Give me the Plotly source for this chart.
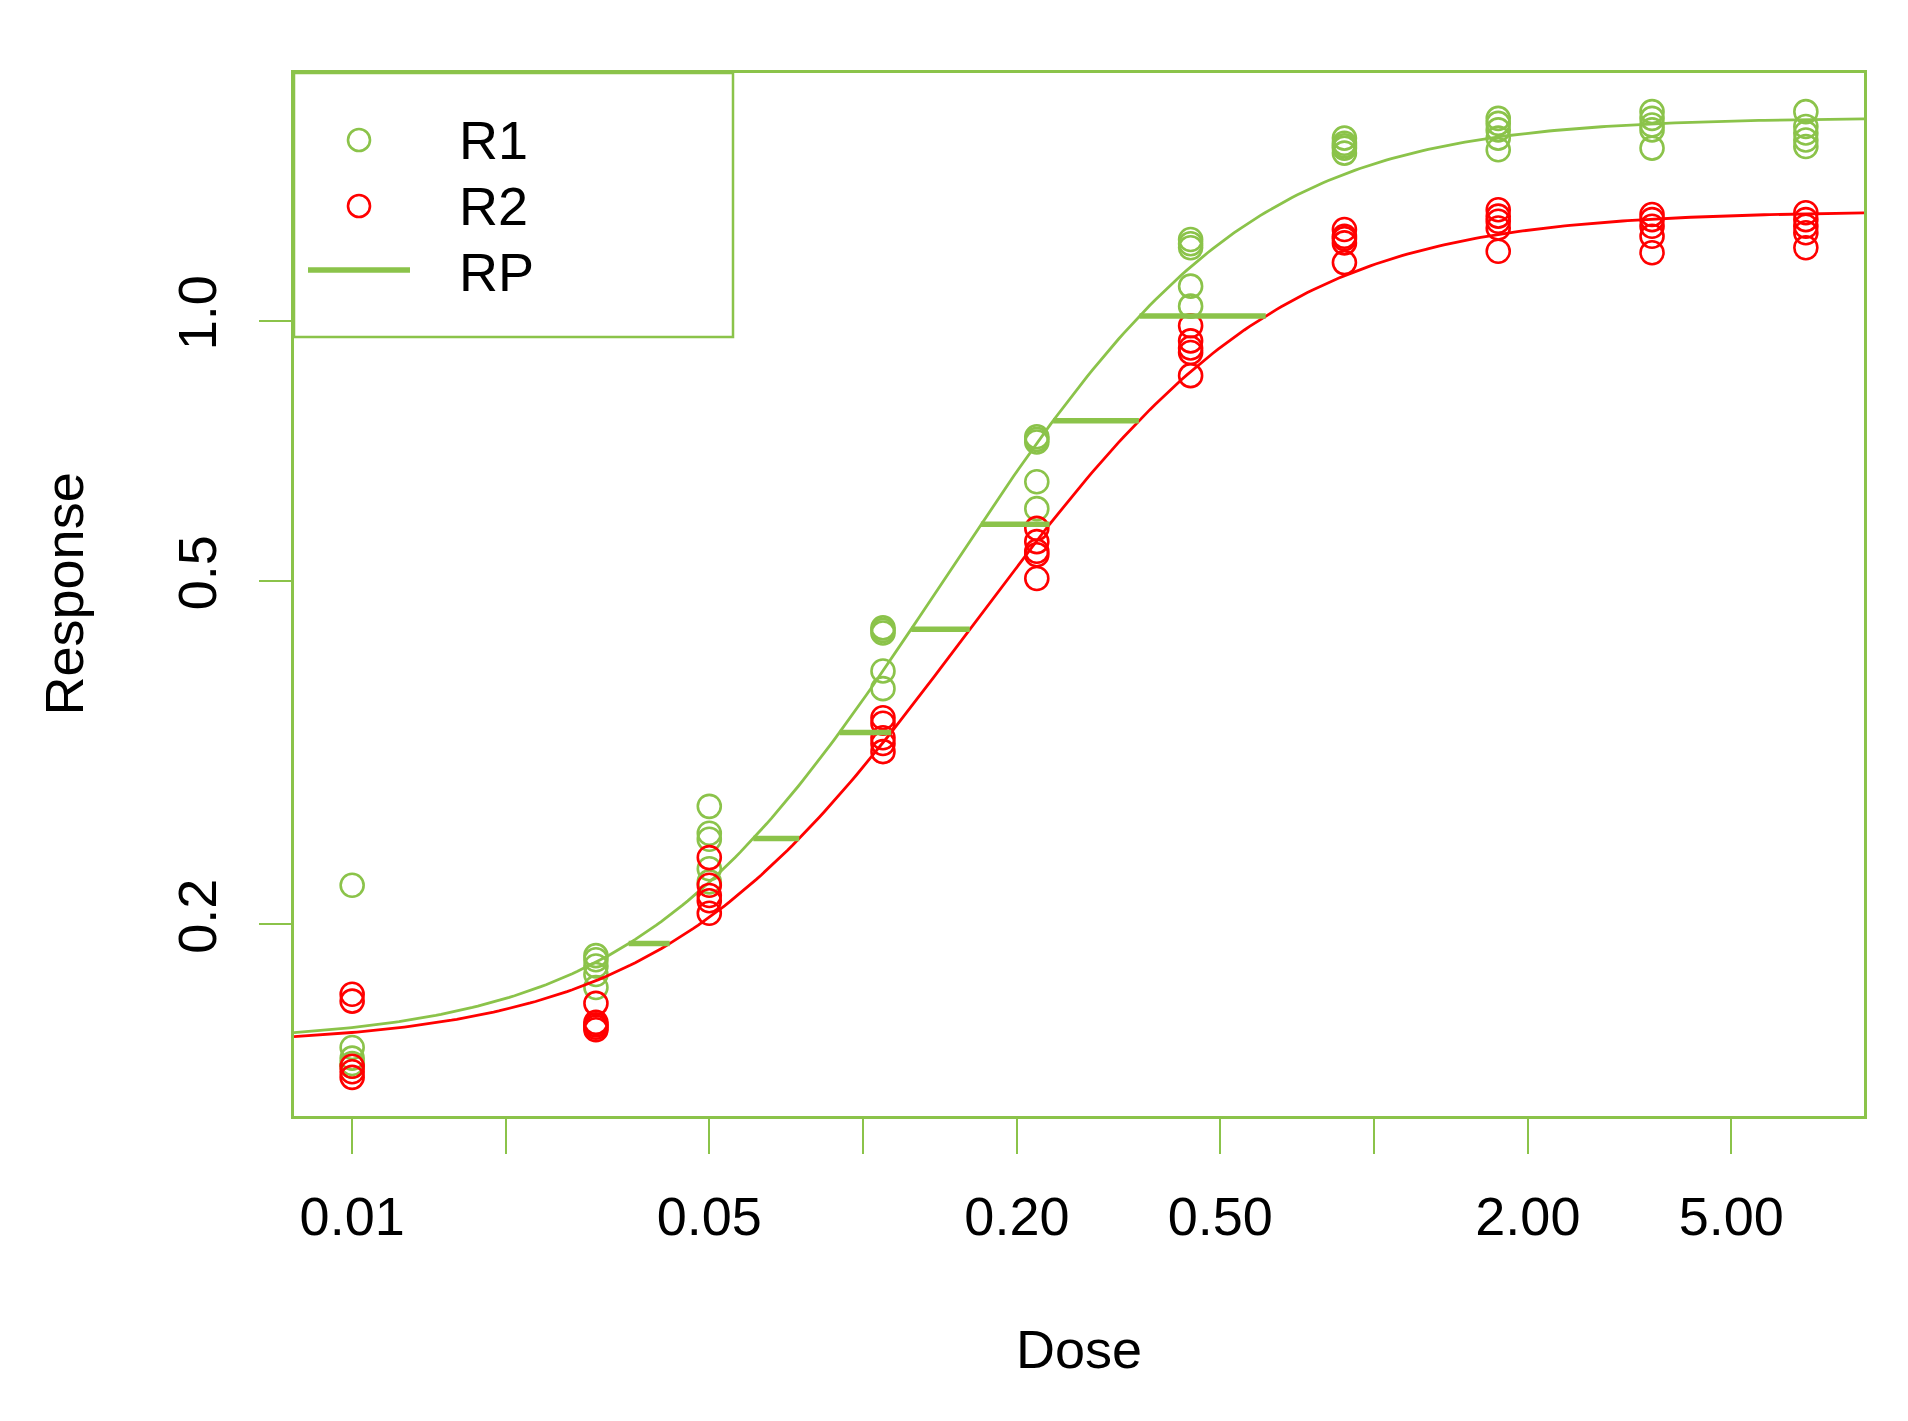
import numpy as np
import plotly.graph_objects as go

# doses (serial 1:2 dilution from 7 down, plus three low doses)
doses = [0.01, 0.03, 0.05, 0.109375, 0.21875, 0.4375, 0.875, 1.75, 3.5, 7.0]

# replicate responses per dose
r1 = [
    [0.222, 0.144, 0.140, 0.138, 0.137],
    [0.184, 0.182, 0.179, 0.175, 0.169],
    [0.274, 0.255, 0.251, 0.232, 0.224],
    [0.441, 0.435, 0.438, 0.393, 0.375],
    [0.734, 0.724, 0.729, 0.651, 0.606],
    [1.242, 1.215, 1.228, 1.097, 1.040],
    [1.628, 1.606, 1.585, 1.564, 1.595],
    [1.716, 1.693, 1.664, 1.628, 1.578],
    [1.747, 1.716, 1.686, 1.664, 1.585],
    [1.747, 1.679, 1.650, 1.620, 1.592],
]
r2 = [
    [0.166, 0.163, 0.137, 0.135, 0.133],
    [0.162, 0.154, 0.152, 0.151, 0.153],
    [0.239, 0.222, 0.213, 0.206, 0.216],
    [0.347, 0.342, 0.329, 0.324, 0.317],
    [0.575, 0.555, 0.541, 0.536, 0.503],
    [0.987, 0.948, 0.930, 0.919, 0.864],
    [1.276, 1.253, 1.231, 1.168, 1.245],
    [1.345, 1.322, 1.304, 1.281, 1.204],
    [1.328, 1.310, 1.287, 1.253, 1.199],
    [1.334, 1.310, 1.287, 1.265, 1.215],
]

# fitted 4-parameter log-logistic models: slope b, lower c, upper d, ED50 e
fit_r1 = dict(b=1.63, c=0.146, d=1.72, e=0.3067)
fit_r2 = dict(b=1.57, c=0.145, d=1.34, e=0.3296)

# response levels where relative potency is shown
rp_levels = [0.190, 0.2515, 0.3337, 0.4395, 0.5813, 0.766, 1.013]

green = '#8BC34A'
red = '#FF0000'
font = 'Liberation Sans, Arial, sans-serif'


def ll4(x, p):
    return p['c'] + (p['d'] - p['c']) / (1 + np.exp(-p['b'] * (np.log(x) - np.log(p['e']))))


def ll4_inv(y, p):
    q = (y - p['c']) / (p['d'] - p['c'])
    return p['e'] * np.exp(np.log(q / (1 - q)) / p['b'])


# axis ranges like R (4% padding on log scale)
lx = np.log10([min(doses), max(doses)])
px = 0.04 * (lx[1] - lx[0])
xr = [lx[0] - px, lx[1] + px]
allr = np.concatenate([np.ravel(r1), np.ravel(r2)])
ly = np.log10([allr.min(), allr.max()])
py = 0.04 * (ly[1] - ly[0])
yr = [ly[0] - py, ly[1] + py]

xx = np.logspace(xr[0], xr[1], 300)

fig = go.Figure()

for resp, fit, col, name in [(r1, fit_r1, green, 'R1'), (r2, fit_r2, red, 'R2')]:
    xs = [d for d, reps in zip(doses, resp) for _ in reps]
    ys = [v for reps in resp for v in reps]
    fig.add_trace(go.Scatter(x=xs, y=ys, mode='markers', name=name,
                             marker=dict(symbol='circle-open', size=23, color=col,
                                         line=dict(width=2.6, color=col))))
    fig.add_trace(go.Scatter(x=xx, y=ll4(xx, fit), mode='lines', name=name + ' fit',
                             line=dict(color=col, width=2.8)))

seg_x, seg_y = [], []
for lev in rp_levels:
    seg_x += [ll4_inv(lev, fit_r1), ll4_inv(lev, fit_r2), None]
    seg_y += [lev, lev, None]
fig.add_trace(go.Scatter(x=seg_x, y=seg_y, mode='lines', name='RP',
                         line=dict(color=green, width=5.5)))

# page has an 8px body margin; plot area given in page pixels
OFF = 8
W, H = 1908 - 2 * OFF, 1421 - 2 * OFF
L, R, T, B = 294, 1864, 73, 1116
pw, ph = R - L, B - T


def pxx(v):
    return (v - L) / pw


def pxy(v):
    return (B - v) / ph


shapes = [
    dict(type='rect', xref='paper', yref='paper', x0=0, x1=pxx(733), y0=pxy(337), y1=1,
         line=dict(color=green, width=2.5), fillcolor='white', layer='above'),
    dict(type='line', xref='paper', yref='paper', x0=pxx(308), x1=pxx(410),
         y0=pxy(270), y1=pxy(270), line=dict(color=green, width=5.5)),
]
for yy, col in [(140, green), (206, red)]:
    shapes.append(dict(type='circle', xref='paper', yref='paper', xsizemode='pixel',
                       ysizemode='pixel', xanchor=pxx(359), yanchor=pxy(yy),
                       x0=-11, x1=11, y0=-11, y1=11, line=dict(color=col, width=2.6)))

annotations = []
for txt, yy in [('R1', 140), ('R2', 206), ('RP', 272)]:
    annotations.append(dict(text=txt, xref='paper', yref='paper', x=pxx(457), y=pxy(yy),
                            xanchor='left', yanchor='middle', showarrow=False,
                            font=dict(size=54, color='black', family=font)))
annotations.append(dict(text='Dose', xref='paper', yref='paper', x=0.5, y=0,
                        yshift=-233, xanchor='center', yanchor='middle', showarrow=False,
                        font=dict(size=54, color='black', family=font)))
annotations.append(dict(text='Response', xref='paper', yref='paper', x=0, y=0.5,
                        xshift=-231, textangle=-90, xanchor='center', yanchor='middle',
                        showarrow=False, font=dict(size=54, color='black', family=font)))

xtick_vals = [0.01, 0.02, 0.05, 0.1, 0.2, 0.5, 1, 2, 5]
xtick_text = ['0.01', '', '0.05', '', '0.20', '0.50', '', '2.00', '5.00']
ytick_vals = [0.2, 0.5, 1.0]
ytick_text = ['0.2', '0.5', '1.0']

fig.update_layout(
    width=W, height=H,
    margin=dict(l=L - OFF, r=W + OFF - R, t=T - OFF, b=H + OFF - B, pad=0),
    plot_bgcolor='white', paper_bgcolor='white',
    showlegend=False,
    font=dict(family=font, size=54, color='black'),
    shapes=shapes, annotations=annotations,
    xaxis=dict(type='log', range=xr, tickvals=xtick_vals, ticktext=xtick_text,
               ticks='outside', ticklen=35, tickwidth=2, tickcolor=green,
               showline=True, linecolor=green, linewidth=2.5, mirror=True,
               showgrid=False, zeroline=False, ticklabelstandoff=16,
               tickfont=dict(size=54, family=font)),
    yaxis=dict(type='log', range=yr, tickvals=ytick_vals, ticktext=ytick_text,
               ticks='outside', ticklen=32, tickwidth=2, tickcolor=green,
               showline=True, linecolor=green, linewidth=2.5, mirror=True,
               showgrid=False, zeroline=False, tickangle=-90, ticklabelstandoff=22,
               tickfont=dict(size=54, family=font)),
)

fig.write_html('out.html')
